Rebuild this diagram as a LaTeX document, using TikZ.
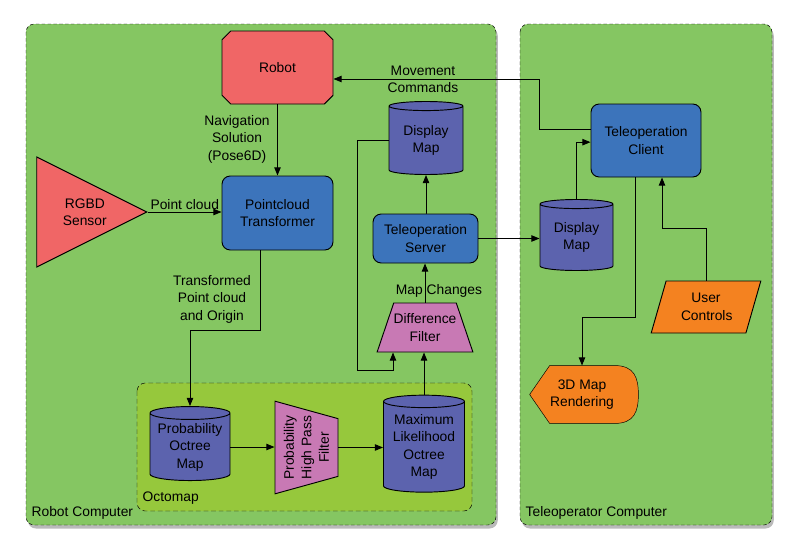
\documentclass[tikz,border=0pt]{standalone}
\usepackage{fontspec}
\setmainfont{Liberation Sans}
\usetikzlibrary{arrows.meta,positioning,shapes.geometric,shapes.misc,shadows,backgrounds}

\definecolor{pcgreen}{HTML}{85C662}
\definecolor{octogreen}{HTML}{96C83C}
\definecolor{procblue}{HTML}{3C74BB}
\definecolor{mappurple}{HTML}{5C63AE}
\definecolor{filterpink}{HTML}{C879B4}
\definecolor{devred}{HTML}{F06666}
\definecolor{useorange}{HTML}{F48220}
\newcommand{\pxu}{0.03cm}
\newcommand{\fixline}[1]{\makebox[1.2cm][c]{#1}}

\begin{document}
\begin{tikzpicture}[
  x=\pxu, y=-\pxu,
  font=\fontsize{11.8}{14.9}\selectfont,
  line width=0.8pt,
  panel/.style={draw, dash pattern=on 3pt off 2pt, rounded corners=7pt, fill=pcgreen},
  pcpanel/.style={panel, drop shadow={shadow xshift=1.5pt, shadow yshift=-3pt, fill=black!45, opacity=0.6}},
  robotbox/.style={chamfered rectangle, chamfered rectangle xsep=0.13cm, chamfered rectangle ysep=0.13cm,
                   draw, fill=devred, minimum width=111*\pxu, minimum height=73*\pxu},
  sensor/.style={isosceles triangle, isosceles triangle stretches, draw, fill=devred,
                 inner sep=0pt, minimum width=110*\pxu, minimum height=110*\pxu},
  proc/.style={draw, rounded corners=7pt, fill=procblue, align=center, inner sep=0pt},
  mapdb/.style={cylinder, shape border rotate=90, aspect=0.2, draw, fill=mappurple, align=center, inner sep=0pt},
  filt/.style={trapezium, trapezium stretches=true, draw, fill=filterpink, align=center, inner sep=0pt},
  userin/.style={trapezium, trapezium stretches=true, trapezium left angle=71, trapezium right angle=109,
                 draw, fill=useorange, align=center, inner sep=0pt},
  flow/.style={-{Triangle[length=7pt,width=5.5pt]}},
  tag/.style={align=center, inner sep=1pt}
]
\useasboundingbox (0,0) rectangle (795,557);

\begin{scope}[on background layer]
\draw[pcpanel] (26,24) rectangle (496,525);
\draw[pcpanel] (520,24) rectangle (772,525);
\draw[panel, fill=octogreen, dash pattern=on 4pt off 2.5pt] (137,383) rectangle (472,511);
\end{scope}

\node[anchor=west, inner sep=1pt] (robotpc) at (30,513) {Robot Computer};
\node[anchor=west, inner sep=1pt] (telepc) at (524,513) {Teleoperator Computer};
\node[anchor=west, inner sep=1pt] (octomap) at (141,498) {Octomap};

\node[robotbox] (robot) at (277.5,67.5) {Robot};
\node[proc, minimum width=111*\pxu, minimum height=74*\pxu] (transformer) at (277.5,213) {Pointcloud\\Transformer};
\node[sensor, anchor=apex, label={[align=center, xshift=0.42cm]center:{RGBD\\Sensor}}] (rgbd) at (148,212) {};

\node[mapdb, minimum width=80*\pxu, minimum height=74*\pxu] (pomap) at (190,447) {Probability\\Octree\\Map};
\node[filt, rotate=90, trapezium left angle=105, trapezium right angle=105,
      minimum width=93*\pxu, minimum height=63*\pxu] (hpf) at (306.5,447.5)
      {\fixline{Probability}\\\fixline{High Pass}\\\fixline{Filter}};
\node[mapdb, minimum width=81*\pxu, minimum height=97*\pxu] (mlmap) at (424,447) {Maximum\\Likelihood\\Octree\\Map};
\node[filt, trapezium left angle=69, trapezium right angle=69,
      minimum width=96*\pxu, minimum height=49*\pxu] (difffilt) at (425,327.5)
      {\fixline{Difference}\\\fixline{Filter}};

\node[proc, minimum width=105*\pxu, minimum height=49*\pxu] (teleserver) at (425.5,238.5) {Teleoperation\\Server};
\node[mapdb, minimum width=74*\pxu, minimum height=73*\pxu] (dmap1) at (426,140.5) {Display\\Map};
\node[proc, minimum width=110*\pxu, minimum height=73*\pxu] (teleclient) at (646,140.5) {Teleoperation\\Client};
\node[mapdb, minimum width=73*\pxu, minimum height=71*\pxu] (dmap2) at (576.5,237.5) {Display\\Map};
\node[userin, text width=1.5cm, minimum width=110*\pxu, minimum height=52*\pxu] (usercontrols) at (706,307) {User\\Controls};
\node[align=center, inner sep=0pt, minimum width=58*\pxu, minimum height=57*\pxu] (render) at (582,394.5) {3D Map\\Rendering};

\begin{scope}[on background layer]
\draw[fill=useorange] (render.north west) -- (render.north east)
  .. controls ++(20,0) and ++(0,-17) .. ([xshift=0.72cm]render.east)
  .. controls ++(0,17) and ++(20,0) .. (render.south east)
  -- (render.south west) -- ([xshift=-0.6cm]render.west) -- cycle;
\end{scope}

\node[tag] (navsol) at (237,139) {Navigation\\Solution\\(Pose6D)};
\node[tag] (movecmd) at (423,79.5) {Movement\\Commands};
\node[tag] (tfcloud) at (212,299) {Transformed\\Point cloud\\and Origin};
\node[tag] (mapchg) at (439,291) {Map Changes};

\draw[flow] (robot.south) -- (transformer.north);
\draw[flow] (rgbd.apex) -- node[above, inner sep=2pt] {Point cloud} (rgbd.apex -| transformer.west);
\draw[flow] ([xshift=-0.5cm]transformer.south) -- ++(0,80) -| (pomap.north);
\draw[flow] (pomap.east) -- (pomap.east -| hpf.north);
\draw[flow] (hpf.south) -- (hpf.south -| mlmap.west);
\draw[flow] (mlmap.north) -- (mlmap.north |- difffilt.south);
\draw[flow] (dmap1.west) -- ++(-31,0) -- ++(0,230) -| ([xshift=-0.96cm]difffilt.south);
\draw[flow] (difffilt.north) -- (difffilt.north |- teleserver.south);
\draw[flow] (teleserver.north) -- (teleserver.north -| dmap1.south) -- (dmap1.south);
\draw[flow] ([yshift=0.345cm]teleclient.west) -- ++(-51,0) |- ([yshift=-0.345cm]robot.east);
\draw[flow] (teleserver.east) -- (teleserver.east -| dmap2.west);
\draw[flow] (dmap2.north) |- ([yshift=-0.05cm]teleclient.west);
\draw[flow] (usercontrols.north) -- ++(0,-52) -| ([xshift=0.48cm]teleclient.south);
\draw[flow] ([xshift=-0.33cm]teleclient.south) -- ++(0,140) -| (render.north);
\end{tikzpicture}
\end{document}
